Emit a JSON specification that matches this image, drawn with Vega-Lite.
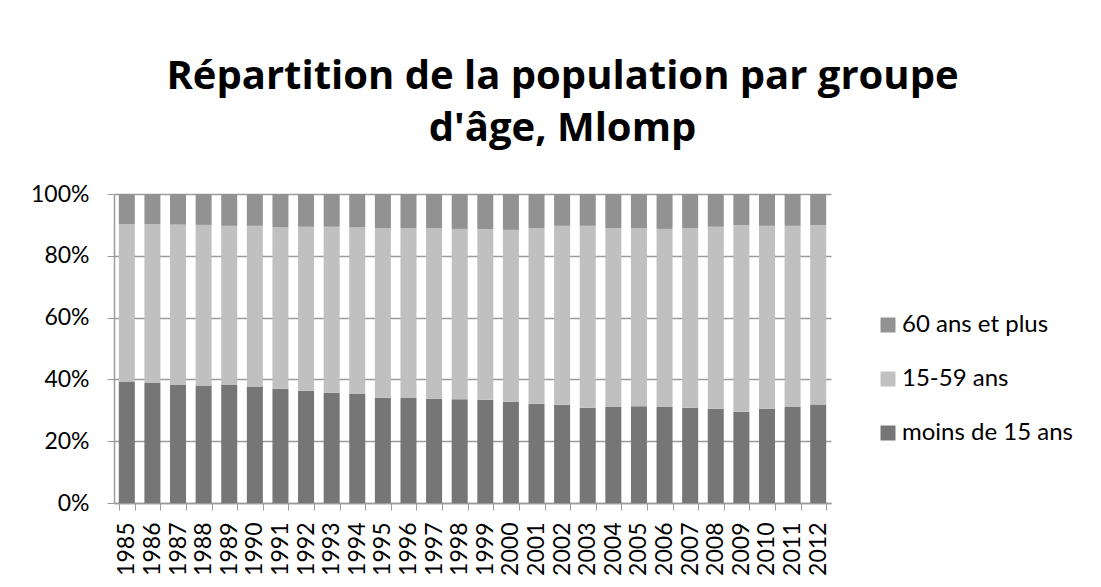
{
  "$schema": "https://vega.github.io/schema/vega-lite/v6.json",
  "width": 717,
  "height": 309,
  "autosize": "none",
  "padding": {"left": 114, "top": 194, "right": 270, "bottom": 84},
  "background": "white",
  "title": {
    "text": ["Répartition de la population par groupe", "d'âge, Mlomp"],
    "font": "Open Sans",
    "fontWeight": "bold",
    "fontSize": 40,
    "lineHeight": 52,
    "color": "#000000",
    "anchor": "middle",
    "frame": "group",
    "dx": 90,
    "offset": 34
  },
  "datasets": {
    "pop": [
      {"annee": "1985", "m": 39.3, "a": 51.0, "s": 9.7},
      {"annee": "1986", "m": 38.8, "a": 51.5, "s": 9.7},
      {"annee": "1987", "m": 38.2, "a": 51.9, "s": 9.9},
      {"annee": "1988", "m": 38.0, "a": 52.0, "s": 10.0},
      {"annee": "1989", "m": 38.2, "a": 51.5, "s": 10.3},
      {"annee": "1990", "m": 37.7, "a": 52.0, "s": 10.3},
      {"annee": "1991", "m": 37.0, "a": 52.3, "s": 10.7},
      {"annee": "1992", "m": 36.3, "a": 53.1, "s": 10.6},
      {"annee": "1993", "m": 35.7, "a": 53.7, "s": 10.6},
      {"annee": "1994", "m": 35.3, "a": 54.0, "s": 10.7},
      {"annee": "1995", "m": 34.1, "a": 54.9, "s": 11.0},
      {"annee": "1996", "m": 34.0, "a": 55.0, "s": 11.0},
      {"annee": "1997", "m": 33.7, "a": 55.3, "s": 11.0},
      {"annee": "1998", "m": 33.6, "a": 55.1, "s": 11.3},
      {"annee": "1999", "m": 33.4, "a": 55.2, "s": 11.4},
      {"annee": "2000", "m": 32.8, "a": 55.6, "s": 11.6},
      {"annee": "2001", "m": 32.1, "a": 56.9, "s": 11.0},
      {"annee": "2002", "m": 31.8, "a": 57.9, "s": 10.3},
      {"annee": "2003", "m": 30.8, "a": 58.9, "s": 10.3},
      {"annee": "2004", "m": 31.1, "a": 57.9, "s": 11.0},
      {"annee": "2005", "m": 31.3, "a": 57.7, "s": 11.0},
      {"annee": "2006", "m": 31.1, "a": 57.6, "s": 11.3},
      {"annee": "2007", "m": 30.8, "a": 58.2, "s": 11.0},
      {"annee": "2008", "m": 30.5, "a": 58.9, "s": 10.6},
      {"annee": "2009", "m": 29.5, "a": 60.4, "s": 10.1},
      {"annee": "2010", "m": 30.5, "a": 59.2, "s": 10.3},
      {"annee": "2011", "m": 31.1, "a": 58.6, "s": 10.3},
      {"annee": "2012", "m": 31.9, "a": 58.0, "s": 10.1}
    ]
  },
  "data": {"name": "pop"},
  "transform": [
    {"fold": ["m", "a", "s"], "as": ["k", "v"]},
    {"calculate": "datum.k === 'm' ? 'moins de 15 ans' : datum.k === 'a' ? '15-59 ans' : '60 ans et plus'", "as": "groupe"},
    {"calculate": "indexof(['m','a','s'], datum.k)", "as": "ordre"}
  ],
  "mark": {"type": "bar"},
  "encoding": {
    "x": {
      "field": "annee",
      "type": "ordinal",
      "scale": {"paddingInner": 0.375, "paddingOuter": 0.1875},
      "axis": {
        "title": null,
        "labelAngle": 270,
        "labelFont": "Lato",
        "labelFontSize": 23,
        "labelColor": "#000000",
        "labelPadding": 12,
        "tickBand": "extent",
        "tickColor": "#9b9b9b",
        "tickSize": 7,
        "domainColor": "#9b9b9b",
        "domainWidth": 1.5,
        "grid": false
      }
    },
    "y": {
      "field": "v",
      "type": "quantitative",
      "stack": "normalize",
      "scale": {"domain": [0, 1]},
      "axis": {
        "title": null,
        "format": ".0%",
        "values": [0, 0.2, 0.4, 0.6, 0.8, 1],
        "labelFont": "Lato",
        "labelFontSize": 23,
        "labelColor": "#000000",
        "labelPadding": 18,
        "tickColor": "#9b9b9b",
        "tickSize": 7,
        "domainColor": "#9b9b9b",
        "domainWidth": 1.5,
        "grid": true,
        "gridColor": "#9b9b9b",
        "gridWidth": 1.5
      }
    },
    "color": {
      "field": "groupe",
      "type": "nominal",
      "scale": {
        "domain": ["60 ans et plus", "15-59 ans", "moins de 15 ans"],
        "range": ["#929292", "#c0c0c0", "#767676"]
      },
      "legend": {
        "title": null,
        "orient": "none",
        "legendX": 762,
        "legendY": 119,
        "padding": 0,
        "symbolType": "square",
        "symbolSize": 225,
        "symbolStrokeWidth": 0,
        "labelFont": "Lato",
        "labelFontSize": 24,
        "labelColor": "#000000",
        "labelOffset": 2,
        "labelLimit": 400,
        "rowPadding": 30
      }
    },
    "order": {"field": "ordre", "type": "quantitative"}
  },
  "config": {
    "view": {"stroke": null}
  }
}
